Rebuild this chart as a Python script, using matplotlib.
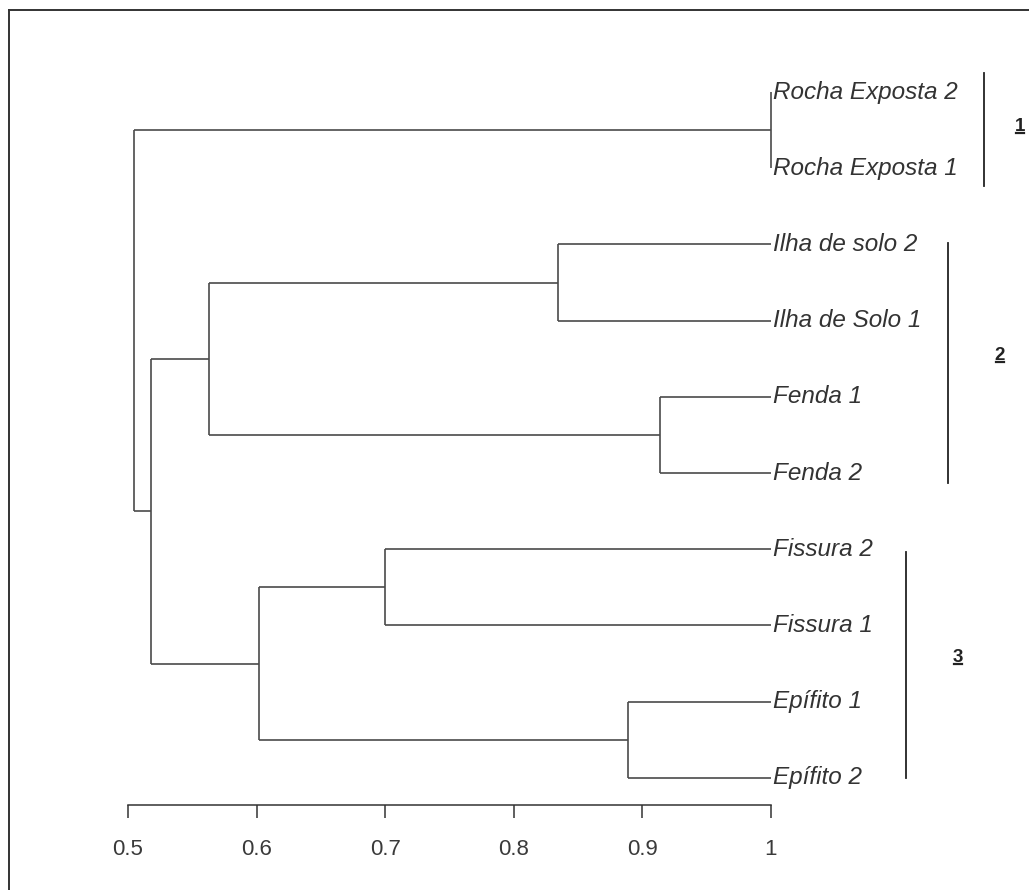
import numpy as np
import matplotlib.pyplot as plt
from matplotlib.lines import Line2D

# leaves top to bottom
leaves = ['Rocha Exposta 2', 'Rocha Exposta 1', 'Ilha de solo 2', 'Ilha de Solo 1',
          'Fenda 1', 'Fenda 2', 'Fissura 2', 'Fissura 1', 'Epífito 1', 'Epífito 2']
# merges: new node ids start at len(leaves)
merge_left = [0, 2, 4, 6, 8, 11, 13, 15, 10]
merge_right = [1, 3, 5, 7, 9, 12, 14, 16, 17]
merge_height = [1.0, 0.834, 0.914, 0.70, 0.889, 0.563, 0.602, 0.518, 0.505]
# groups (first leaf, last leaf)
group_names = ['1', '2', '3']
group_first = [0, 2, 6]
group_last = [1, 5, 9]
xticks = [0.5, 0.6, 0.7, 0.8, 0.9, 1.0]
xticklabels = ['0.5', '0.6', '0.7', '0.8', '0.9', '1']

W, H = 1029, 890
fig = plt.figure(figsize=(W/100, H/100), dpi=100)
fig.patch.set_facecolor('white')

# leaf i at pixel 92 + 76.2*i, axes from px 10 (top) to 805 (bottom)
step = 76.2
ytop = -(10 - 92)/step
ybot = -(805 - 92)/step
ax = fig.add_axes([128/W, 1 - 805/H, (771-128)/W, (805-10)/H])
ax.set_xlim(0.5, 1.0)
ax.set_ylim(ybot, ytop)

lc = '#4a4a4a'
lw = 1.2

pos = {i: -float(i) for i in range(len(leaves))}
hgt = {i: 1.0 for i in range(len(leaves))}
for k, (l, r, h) in enumerate(zip(merge_left, merge_right, merge_height)):
    node = len(leaves) + k
    ax.plot([hgt[l], h], [pos[l], pos[l]], color=lc, lw=lw, clip_on=False, solid_capstyle='butt')
    ax.plot([hgt[r], h], [pos[r], pos[r]], color=lc, lw=lw, clip_on=False, solid_capstyle='butt')
    ax.plot([h, h], [pos[l], pos[r]], color=lc, lw=lw, clip_on=False, solid_capstyle='butt')
    pos[node] = (pos[l] + pos[r]) / 2
    hgt[node] = h

for i, name in enumerate(leaves):
    ax.text(1.0015, pos[i], name, ha='left', va='center', fontsize=17.5,
            style='italic', family='Liberation Sans', color='#333333', clip_on=False)

# group brackets
bar_x = [1.1656, 1.1376, 1.105]
bar_ext = [(0.25, 0.24), (0.02, 0.13), (-0.04, 0.0)]
lab_x = [1.1936, 1.178, 1.1454]
lab_dy = [0.04, 0.1, 0.1]
texts = []
for g in range(3):
    y0 = -group_first[g] + bar_ext[g][0]
    y1 = -group_last[g] - bar_ext[g][1]
    ax.plot([bar_x[g], bar_x[g]], [y0, y1], color='#222222', lw=1.3, clip_on=False)
    ym = (y0 + y1) / 2 + lab_dy[g]
    t = ax.text(lab_x[g], ym, group_names[g], ha='center', va='center', fontsize=13.5,
                family='Liberation Sans', weight='bold', color='#222222', clip_on=False)
    texts.append(t)

ax.set_xticks(xticks)
ax.set_xticklabels(xticklabels)
ax.set_yticks([])
for s in ['top', 'right', 'left']:
    ax.spines[s].set_visible(False)
ax.spines['bottom'].set_color('#333333')
ax.spines['bottom'].set_linewidth(1.1)
ax.tick_params(axis='x', direction='out', length=9.5, width=1.1, color='#333333',
               pad=15, labelsize=16, labelcolor='#3a3a3a')
for lab in ax.get_xticklabels():
    lab.set_family('Liberation Sans')
ax.patch.set_visible(False)

# underline the group numbers
fig.canvas.draw()
r = fig.canvas.get_renderer()
for t in texts:
    bb = t.get_window_extent(r)
    yline = bb.y0 + 2
    fig.add_artist(Line2D([(bb.x0 + 1)/W, (bb.x1 - 1)/W], [yline/H, yline/H], color='#222222', lw=1.6))

# outer frame (top and left edges visible)
fig.add_artist(Line2D([9/W, 1.0], [1 - 10/H, 1 - 10/H], color='#333333', lw=1.4))
fig.add_artist(Line2D([9/W, 9/W], [1 - 10/H, 0.0], color='#333333', lw=1.4))

fig.savefig('out.png', dpi=100)
